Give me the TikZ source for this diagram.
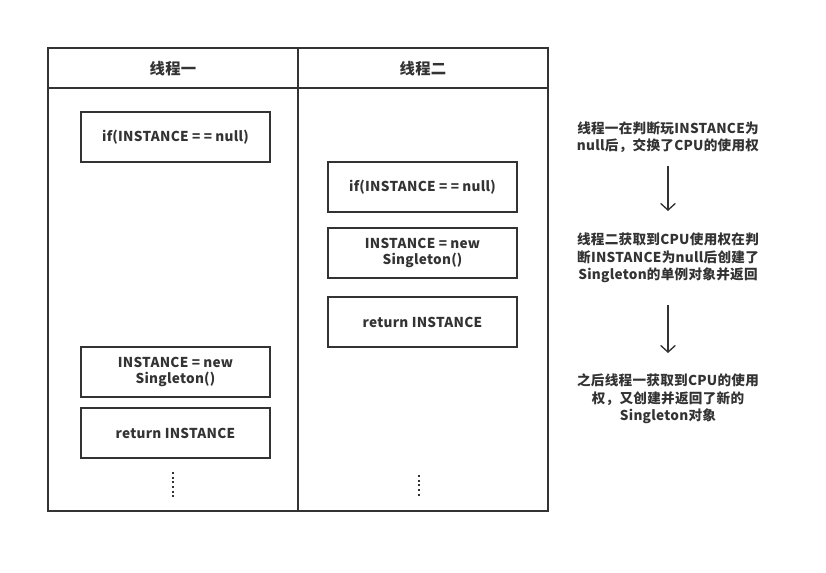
\documentclass[tikz,border=0pt]{standalone}
\usepackage{fontspec}
\setmainfont{Noto Sans CJK SC}[LetterSpace=2]
\usetikzlibrary{arrows.meta}
\definecolor{ink}{HTML}{333333}
\tikzset{
  frame/.style={draw=ink, line width=1.5pt},
  codebox/.style={draw=ink, line width=1.5pt, minimum width=189*0.75pt, minimum height=50*0.75pt, inner sep=0pt, align=center, font=\bfseries\fontsize{10.2}{12}\selectfont, text=ink},
  hdr/.style={font=\bfseries\fontsize{11.5}{13}\selectfont, text=ink},
  note/.style={align=center, font=\bfseries\fontsize{10.2}{13}\selectfont, text=ink},
  flow/.style={draw=ink, line width=1pt, -{Straight Barb[length=5pt,width=11pt]}},
  vdots/.style={draw=ink, line width=1.5pt, dash pattern=on 1.5pt off 2pt}
}
\begin{document}
\begin{tikzpicture}[x=0.75pt,y=-0.75pt]
\useasboundingbox (0,0) rectangle (826,573);
% frame
\draw[frame] (48,48) rectangle (548,511);
\draw[frame] (48,88) -- (548,88);
\draw[frame] (298,48) -- (298,511);
\node[hdr] (h1) at (173,69) {线程一};
\node[hdr] (h2) at (423,69) {线程二};
% left column
\node[codebox] (l1) at (175.5,137) {if(INSTANCE = = null)};
\node[codebox] (l2) at (175.5,372) {INSTANCE = new\\Singleton()};
\node[codebox] (l3) at (175.5,433) {return INSTANCE};
% right column
\node[codebox] (r1) at (422.5,187) {if(INSTANCE = = null)};
\node[codebox] (r2) at (422.5,253) {INSTANCE = new\\Singleton()};
\node[codebox] (r3) at (422.5,322) {return INSTANCE};
% dots
\coordinate (d1a) at (173,472);
\coordinate (d1b) at (173,499);
\coordinate (d2a) at (419,475);
\coordinate (d2b) at (419,497);
\draw[vdots] (d1a) -- (d1b);
\draw[vdots] (d2a) -- (d2b);
% notes
\node[note] (n1) at (668,137) {线程一在判断玩INSTANCE为\\null后，交换了CPU的使用权};
\node[note] (n2) at (668,258) {线程二获取到CPU使用权在判\\断INSTANCE为null后创建了\\Singleton的单例对象并返回};
\node[note] (n3) at (668,399) {之后线程一获取到CPU的使用\\权，又创建并返回了新的\\Singleton对象};
\coordinate (a1s) at (668,166);
\coordinate (a1e) at (668,211);
\coordinate (a2s) at (668,305);
\coordinate (a2e) at (668,353);
\draw[flow] (n1.south |- a1s) -- (a1e);
\draw[flow] (n2.south |- a2s) -- (a2e);
\end{tikzpicture}
\end{document}
